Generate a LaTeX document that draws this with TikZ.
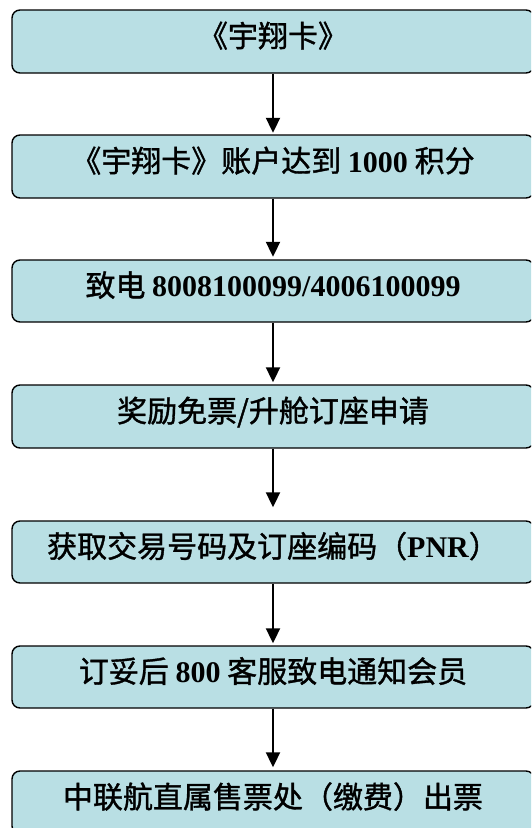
\documentclass[tikz,border=0pt]{standalone}
\usepackage{fontspec}
\setmainfont{Liberation Serif}
\newfontfamily\cjk[FakeBold=1.2]{Noto Sans CJK SC}
\usetikzlibrary{arrows.meta}
\newcommand\bnum[1]{{\rmfamily\bfseries #1}}
\definecolor{boxfill}{RGB}{185,223,228}
\begin{document}
\begin{tikzpicture}[x=1pt,y=-1pt,
  flowbox/.style={draw=black, line width=1.4pt, fill=boxfill, rounded corners=8pt,
    minimum width=522pt, inner sep=0pt, font=\fontsize{30}{32}\selectfont\cjk,
    text height=22pt, text depth=11pt, anchor=center},
  flow/.style={line width=2pt, -{Triangle[width=14pt,length=15pt]}}]
\clip (0,0) rectangle (531,828);
\node[flowbox, minimum height=63pt] (b1) at (273,41.5) {《宇翔卡》};
\node[flowbox, minimum height=63pt] (b2) at (273,166.5) {《宇翔卡》账户达到 \bnum{1000} 积分};
\node[flowbox, minimum height=62pt] (b3) at (273,291) {致电 \bnum{8008100099/4006100099}};
\node[flowbox, minimum height=63pt] (b4) at (273,416.5) {奖励免票/升舱订座申请};
\node[flowbox, minimum height=62pt] (b5) at (273,552) {获取交易号码及订座编码（\bnum{PNR}）};
\node[flowbox, minimum height=62pt] (b6) at (273,677) {订妥后 \bnum{800} 客服致电通知会员};
\node[flowbox, minimum height=63pt] (b7) at (273,802.5) {中联航直属售票处（缴费）出票};
\draw[flow, shorten >=1.5pt] (b1) -- (b2);
\draw[flow, shorten >=2.5pt] (b2) -- (b3);
\draw[flow, shorten >=2pt] (b3) -- (b4);
\draw[flow, shorten >=13pt] (b4) -- (b5);
\draw[flow, shorten >=2pt] (b5) -- (b6);
\draw[flow, shorten >=3pt] (b6) -- (b7);
\end{tikzpicture}
\end{document}
